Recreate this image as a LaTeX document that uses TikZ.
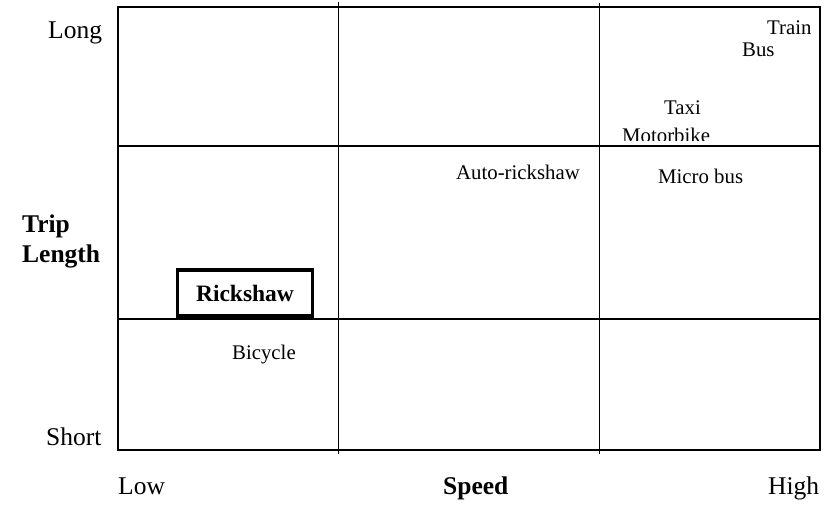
\documentclass[tikz,border=0pt]{standalone}
\usepackage{fontspec}
\setmainfont{Liberation Serif}
\begin{document}
\begin{tikzpicture}[x=1pt,y=-1pt,
  gridline/.style={line width=1.4pt},
  axislbl/.style={anchor=base west,inner sep=0pt,font=\fontsize{25.5}{28}\selectfont},
  axisbold/.style={axislbl,font=\fontsize{25.5}{28}\selectfont\bfseries},
  mode/.style={anchor=base west,inner sep=0pt,font=\fontsize{20.8}{24}\selectfont},
  hlbox/.style={draw,line width=3.2pt,inner sep=0pt,minimum width=135pt,minimum height=46pt,
    font=\fontsize{23.5}{26}\selectfont\bfseries}]
\useasboundingbox (0,0) rectangle (834,505);
% grid
\draw[gridline] (118,7) rectangle (820,450);
\draw[gridline] (118,146) -- (820,146);
\draw[gridline] (118,319) -- (820,319);
\draw[gridline] (338.5,2) -- (338.5,454);
\draw[gridline] (599.5,3) -- (599.5,454);
% axis labels
\node[axislbl] (long) at (48,39) {Long};
\node[axisbold] (trip) at (22,232) {Trip};
\node[axisbold] (length) at (22,262) {Length};
\node[axislbl] (short) at (46,445) {Short};
\node[axislbl] (low) at (118,494) {Low};
\node[axisbold] (speed) at (443,494) {Speed};
\node[axislbl] (high) at (768,494) {High};
% modes
\node[mode] (train) at (767,35) {Train};
\node[mode] (bus) at (742,57) {Bus};
\node[mode] (taxi) at (664,115) {Taxi};
\begin{scope}
\clip (600,100) rectangle (820,140.5);
\node[mode] (motorbike) at (622,143) {Motorbike};
\end{scope}
\node[mode] (microbus) at (658,183) {Micro bus};
\node[mode] (auto) at (456,179) {Auto-rickshaw};
\node[mode] (bicycle) at (232,359) {Bicycle};
\node[hlbox] (rickshaw) at (245,293) {Rickshaw};
\end{tikzpicture}
\end{document}
